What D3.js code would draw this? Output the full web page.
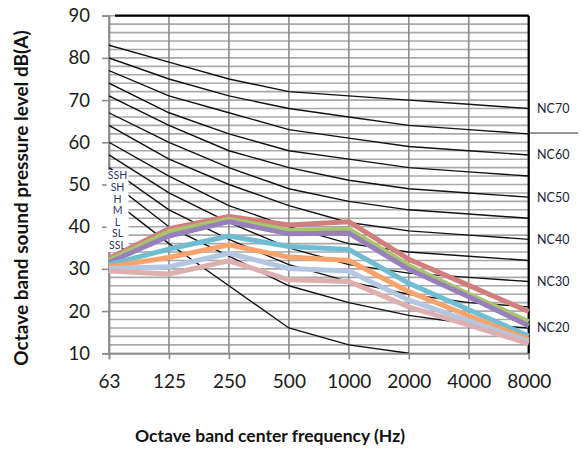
<!DOCTYPE html>
<html>
<head>
<meta charset="utf-8">
<script src="https://cdn.jsdelivr.net/npm/d3@7"></script>
<style>
  html, body { margin: 0; padding: 0; background: #fff; }
  svg { display: block; }
  text { font-family: Lato, "Open Sans", sans-serif; }
</style>
</head>
<body>
<svg id="chart" width="581" height="450"></svg>
<script>
// ---- data ----
const frequencies = ["63", "125", "250", "500", "1000", "2000", "4000", "8000"];
const yTicks = [10, 20, 30, 40, 50, 60, 70, 80, 90];

// NC reference curves (black)
const nc70 = [83, 79, 75, 72, 71, 70, 69, 68];
const nc65 = [80, 75, 71, 68, 66, 64, 63, 62];
const nc60 = [77, 71, 67, 63, 61, 59, 58, 57];
const nc55 = [74, 67, 62, 58, 56, 54, 53, 52];
const nc50 = [71, 64, 58, 54, 51, 49, 48, 47];
const nc45 = [67, 60, 54, 49, 46, 44, 43, 42];
const nc40 = [64, 56, 50, 45, 41, 39, 38, 37];
const nc35 = [60, 52, 45, 40, 36, 34, 33, 32];
const nc30 = [57, 48, 41, 35, 31, 29, 28, 27];
const nc25 = [54, 44, 37, 31, 27, 24, 22, 21];
const nc20 = [51, 40, 33, 26, 22, 19, 17, 16];
const nc15 = [47, 36, 26, 16, 12, 10, null, null];
const ncCurves = [nc70, nc65, nc60, nc55, nc50, nc45, nc40, nc35, nc30, nc25, nc20, nc15];
const ncLabels = ["NC70", "NC60", "NC50", "NC40", "NC30", "NC20"];
const ncLabelValues = [68, 57, 47, 37, 27, 16];

// measured series
const seriesNames = ["SSH", "SH", "H", "M", "L", "SL", "SSL"];
const ssh = [32.5, 39.5, 42.4, 40.4, 41.2, 32.3, 26.1, 19.9];
const sh  = [32.0, 38.8, 41.8, 39.1, 39.4, 30.8, 24.0, 17.5];
const h   = [31.5, 37.8, 41.2, 38.3, 38.5, 29.9, 23.4, 16.5];
const m   = [31.0, 34.7, 37.8, 35.3, 34.6, 26.6, 20.3, 14.1];
const l   = [30.5, 32.7, 35.7, 32.8, 32.0, 24.6, 18.9, 13.3];
const sl  = [30.1, 30.5, 33.7, 30.1, 29.5, 22.6, 17.7, 12.8];
const ssl = [29.5, 28.8, 31.9, 27.4, 27.0, 21.0, 16.7, 12.3];
const seriesValues = [ssh, sh, h, m, l, sl, ssl];
const seriesColors = ["#d27e7c", "#a7c56d", "#9a80bb", "#70bdd1", "#f7a46c", "#b3c6e2", "#ddafae"];

const yTitle = "Octave band sound pressure level dB(A)";
const xTitle = "Octave band center frequency (Hz)";

// ---- layout ----
const svg = d3.select("#chart");
const x = d3.scalePoint().domain(frequencies).range([109, 528.7]);
const y = d3.scaleLinear().domain([10, 90]).range([353.3, 15.7]);
const left = 109, right = 528.7;

// horizontal grid lines every 2 dB
const gridVals = d3.range(10, 91, 2);
svg.append("g").selectAll("line").data(gridVals).join("line")
  .attr("x1", left).attr("x2", right)
  .attr("y1", d => y(d)).attr("y2", d => y(d))
  .attr("stroke", "#a9a9a9").attr("stroke-width", 1.6);

// vertical grid lines
svg.append("g").selectAll("line").data(frequencies).join("line")
  .attr("x1", d => x(d)).attr("x2", d => x(d))
  .attr("y1", y(90)).attr("y2", y(10))
  .attr("stroke", "#8c8c8c").attr("stroke-width", 1.6);

// left axis
const yAxis = d3.axisLeft(y).tickValues(yTicks).tickSize(7).tickPadding(12).tickFormat(d3.format("d"));
const gy = svg.append("g").attr("transform", `translate(${left},0)`).call(yAxis);
gy.select(".domain").attr("stroke", "#8c8c8c").attr("stroke-width", 1.8);
gy.selectAll(".tick line").attr("stroke", "#8c8c8c").attr("stroke-width", 1.6);
gy.selectAll(".tick text").attr("font-size", 18.5).attr("fill", "#1a1a1a")
  .attr("font-family", "Lato, sans-serif");

// bottom axis
const xAxis = d3.axisBottom(x).tickSize(6).tickPadding(15);
const gx = svg.append("g").attr("transform", `translate(0,${y(10)})`).call(xAxis);
gx.select(".domain").attr("stroke", "#8c8c8c").attr("stroke-width", 1.8);
gx.selectAll(".tick line").attr("stroke", "#8c8c8c").attr("stroke-width", 1.6);
gx.selectAll(".tick text").attr("font-size", 19).attr("fill", "#1a1a1a")
  .attr("font-family", "Lato, sans-serif");

// frame: top and right black borders
svg.append("line").attr("x1", left + 6).attr("x2", right).attr("y1", y(90)).attr("y2", y(90))
  .attr("stroke", "#000").attr("stroke-width", 2.2);
svg.append("line").attr("x1", right).attr("x2", right).attr("y1", y(90)).attr("y2", y(10))
  .attr("stroke", "#000").attr("stroke-width", 2.2);

// clip
svg.append("clipPath").attr("id", "plotclip").append("rect")
  .attr("x", left).attr("y", y(90)).attr("width", right - left).attr("height", y(10) - y(90));

// NC curves
const line = d3.line()
  .defined(d => d != null)
  .x((d, i) => x(frequencies[i]))
  .y(d => y(d));
svg.append("g").attr("clip-path", "url(#plotclip)")
  .selectAll("path").data(ncCurves).join("path")
  .attr("d", d => line(d))
  .attr("fill", "none").attr("stroke", "#111").attr("stroke-width", 1.4);

// legend box of series names
const labelG = svg.append("g");
labelG.append("rect")
  .attr("x", 106.5).attr("y", 170).attr("width", 22).attr("height", 82)
  .attr("fill", "#fff");
labelG.selectAll("text").data(seriesNames).join("text")
  .attr("x", 117.5).attr("y", (d, i) => 175.8 + i * 11.55)
  .attr("dy", "0.35em").attr("text-anchor", "middle")
  .attr("font-size", 10.5).attr("fill", "#2b3566")
  .text(d => d);

// measured series lines
svg.append("g").selectAll("path").data(seriesValues).join("path")
  .attr("d", d => line(d))
  .attr("fill", "none")
  .attr("stroke", (d, i) => seriesColors[i])
  .attr("stroke-width", 5)
  .attr("stroke-linejoin", "round");

// NC labels
svg.append("g").selectAll("text").data(ncLabels).join("text")
  .attr("x", 537).attr("y", (d, i) => y(ncLabelValues[i]))
  .attr("dy", "0.35em").attr("font-size", 12.5).attr("fill", "#1c1c3c")
  .text(d => d);

// stray line at right between NC70 and NC60
svg.append("line").attr("x1", right).attr("x2", 578)
  .attr("y1", y(62.2)).attr("y2", y(62.2))
  .attr("stroke", "#333").attr("stroke-width", 1);

// axis titles
svg.append("text")
  .attr("transform", `translate(21,198) rotate(-90)`)
  .attr("text-anchor", "middle").attr("dy", "0.35em")
  .attr("font-size", 19).attr("font-weight", "bold").attr("fill", "#111")
  .text(yTitle);
svg.append("text")
  .attr("x", 270).attr("y", 436)
  .attr("text-anchor", "middle").attr("dy", "0.35em")
  .attr("font-size", 17.5).attr("font-weight", "bold").attr("fill", "#111")
  .text(xTitle);
</script>
</body>
</html>
